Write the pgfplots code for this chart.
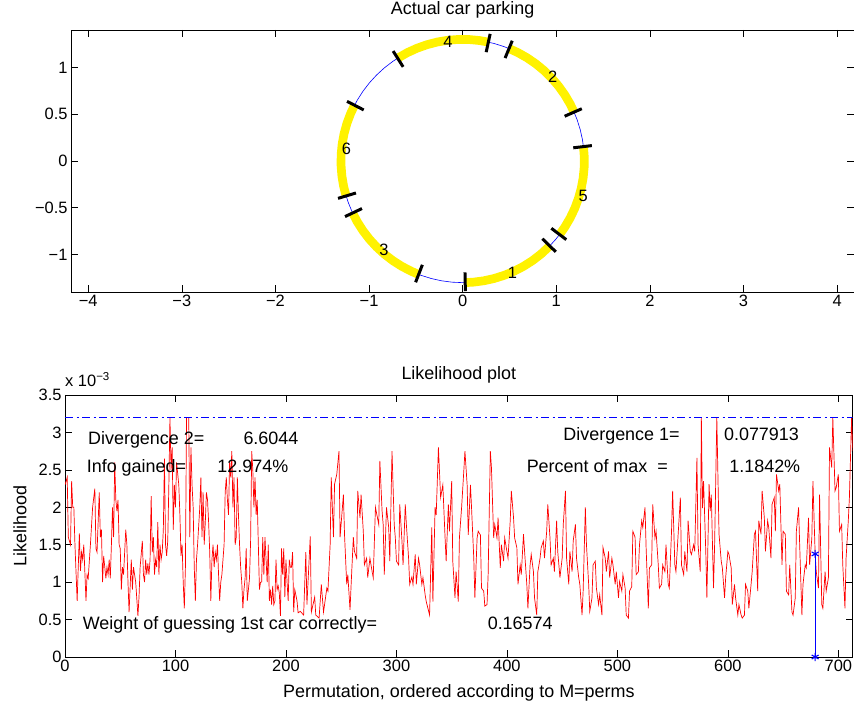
\documentclass[border=0pt]{standalone}
\usepackage{fontspec}
\setmainfont{Liberation Sans}
\usepackage{pgfplots}
\pgfplotsset{compat=1.18}
\definecolor{mblue}{RGB}{0,0,255}

\pgfplotsset{
  matlab/.style={
    scale only axis,
    axis line style={line width=0.8bp},
    tick style={line width=0.6bp, black},
    major tick length=7bp,
    tick align=inside,
    tick pos=both,
    font=\fontsize{18}{21}\selectfont,
    tick label style={font=\fontsize{16.5}{19}\selectfont},
    title style={at={(axis description cs:0.5,1)}, anchor=base, yshift=9.5bp},
  },
}

\begin{document}
\begin{tikzpicture}
% --- top: parking circle (angles in degrees, radius) ---
\begin{axis}[matlab,
  at={(71bp,416bp)}, anchor=south west,
  width=783.3bp, height=262bp,
  xmin=-4.184, xmax=4.184, ymin=-1.4, ymax=1.4,
  xtick={-4,...,4}, xticklabels={−4,−3,−2,−1,0,1,2,3,4},
  ytick={-1,-0.5,0,0.5,1}, yticklabels={−1,−0.5,0,0.5,1},
  title={Actual car parking},
  data cs=polar,
]
\addplot[color=mblue, line width=0.6bp] coordinates {
(0,1.3) (5,1.3) (10,1.3) (15,1.3) (20,1.3) (25,1.3) (30,1.3) (35,1.3) (40,1.3) (45,1.3)
(50,1.3) (55,1.3) (60,1.3) (65,1.3) (70,1.3) (75,1.3) (80,1.3) (85,1.3) (90,1.3) (95,1.3)
(100,1.3) (105,1.3) (110,1.3) (115,1.3) (120,1.3) (125,1.3) (130,1.3) (135,1.3) (140,1.3) (145,1.3)
(150,1.3) (155,1.3) (160,1.3) (165,1.3) (170,1.3) (175,1.3) (180,1.3) (185,1.3) (190,1.3) (195,1.3)
(200,1.3) (205,1.3) (210,1.3) (215,1.3) (220,1.3) (225,1.3) (230,1.3) (235,1.3) (240,1.3) (245,1.3)
(250,1.3) (255,1.3) (260,1.3) (265,1.3) (270,1.3) (275,1.3) (280,1.3) (285,1.3) (290,1.3) (295,1.3)
(300,1.3) (305,1.3) (310,1.3) (315,1.3) (320,1.3) (325,1.3) (330,1.3) (335,1.3) (340,1.3) (345,1.3)
(350,1.3) (355,1.3) (360,1.3)};
% cars
\addplot[yellow, line width=8.7bp] coordinates {(271.2,1.3) (275,1.3) (280,1.3) (285,1.3) (290,1.3) (295,1.3) (300,1.3) (305,1.3) (310,1.3) (315.7,1.3)};
\addplot[yellow, line width=8.7bp] coordinates {(322.8,1.3) (327,1.3) (332,1.3) (337,1.3) (342,1.3) (347,1.3) (352,1.3) (357,1.3) (362,1.3) (366.8,1.3)};
\addplot[yellow, line width=8.7bp] coordinates {(23.7,1.3) (28,1.3) (33,1.3) (38,1.3) (43,1.3) (48,1.3) (53,1.3) (58,1.3) (63,1.3) (67.6,1.3)};
\addplot[yellow, line width=8.7bp] coordinates {(77.8,1.3) (82,1.3) (87,1.3) (92,1.3) (97,1.3) (102,1.3) (107,1.3) (112,1.3) (117,1.3) (122.3,1.3)};
\addplot[yellow, line width=8.7bp] coordinates {(152.7,1.3) (157,1.3) (162,1.3) (167,1.3) (172,1.3) (177,1.3) (182,1.3) (187,1.3) (192,1.3) (196.7,1.3)};
\addplot[yellow, line width=8.7bp] coordinates {(205.3,1.3) (210,1.3) (215,1.3) (220,1.3) (225,1.3) (230,1.3) (235,1.3) (240,1.3) (245,1.3) (248.8,1.3)};
% car ends
\addplot[black, line width=3bp] coordinates {(271.2,1.19) (271.2,1.39)};
\addplot[black, line width=3bp] coordinates {(315.7,1.19) (315.7,1.39)};
\addplot[black, line width=3bp] coordinates {(322.8,1.19) (322.8,1.39)};
\addplot[black, line width=3bp] coordinates {(6.8,1.19) (6.8,1.39)};
\addplot[black, line width=3bp] coordinates {(23.7,1.19) (23.7,1.39)};
\addplot[black, line width=3bp] coordinates {(67.6,1.19) (67.6,1.39)};
\addplot[black, line width=3bp] coordinates {(77.8,1.19) (77.8,1.39)};
\addplot[black, line width=3bp] coordinates {(122.3,1.19) (122.3,1.39)};
\addplot[black, line width=3bp] coordinates {(152.7,1.19) (152.7,1.39)};
\addplot[black, line width=3bp] coordinates {(196.7,1.19) (196.7,1.39)};
\addplot[black, line width=3bp] coordinates {(205.3,1.19) (205.3,1.39)};
\addplot[black, line width=3bp] coordinates {(248.8,1.19) (248.8,1.39)};
% car numbers
\addplot[draw=none, nodes near coords, point meta=explicit symbolic,
  nodes near coords style={anchor=center, inner sep=0pt, font=\fontsize{16.5}{19}\selectfont}] coordinates {
(294,1.31)[1] (43.3,1.32)[2] (228.5,1.27)[3] (97,1.28)[4] (344,1.34)[5] (173.8,1.25)[6]};
\end{axis}

% --- bottom: likelihood of each permutation (values in 1e-3) ---
\begin{axis}[matlab,
  at={(65bp,51bp)}, anchor=south west,
  width=787.7bp, height=262bp,
  xmin=0, xmax=713, ymin=0, ymax=3.5,
  xtick={0,100,...,700}, xticklabels={0,100,200,300,400,500,600,700},
  ytick={0,0.5,...,3.5}, yticklabels={0,0.5,1,1.5,2,2.5,3,3.5},
  title={Likelihood plot},
  xlabel={Permutation, ordered according to M=perms},
  ylabel={Likelihood},
  xlabel style={at={(axis description cs:0.5,-0.1527)}, anchor=base},
  ylabel style={at={(axis description cs:-0.0571,0.5)}, anchor=center},
]
\addplot[red, line width=0.7bp] coordinates {
(0,2.3) (2,2.4) (3,1.6) (5,1.5) (6,2.35) (7,2.0) (8,2.0) (9,1.5) (11,0.75) (13,1.65) (14,1.15) (15,1.4) (16,1.3) (17,1.5) (19,0.75) (20,1.1) (21,1.05) (23,1.5) (25,2.0) (27,2.25) (28,1.45) (29,1.4) (30,1.8) (31,2.2) (32,1.6) (33,1.7) (34,1.0) (35,1.35) (36,1.2) (37,1.05) (38,1.2) (39,1.1) (40,1.3) (41,1.05) (42,1.5) (43,2.0) (44,1.6) (45,2.6) (46,2.1) (47,1.95) (48,2.1) (49,1.5) (50,1.45) (51,0.9) (52,1.2) (53,1.1) (55,1.7) (56,1.5) (57,1.0) (58,0.6) (59,0.95) (60,1.3) (61,0.9) (62,1.2) (64,1.0) (66,0.55) (67,0.8) (68,1.2) (70,1.55) (71,1.1) (72,1.0) (73,1.3) (74,1.1) (75,1.25) (76,1.1) (77,1.3) (78,2.15) (79,1.4) (80,1.6) (81,1.1) (82,1.3) (83,1.2) (84,1.8) (85,1.1) (86,1.5) (87,1.3) (88,1.4) (89,1.7) (90,2.65) (91,1.5) (92,1.35) (93,1.55) (94,2.3) (95,3.2) (96,2.5) (97,2.8) (98,1.7) (99,2.3) (100,2.0) (101,2.6) (103,2.3) (104,1.9) (105,1.35) (106,1.5) (107,1.0) (108,0.65) (109,1.2) (110,3.2) (112,3.2) (113,1.6) (114,2.8) (115,2.3)
(116,2.0) (117,1.2) (118,0.75) (119,1.3) (120,1.5) (122,2.0) (123,2.4) (124,1.6) (125,2.2) (126,1.5) (127,1.8) (128,2.2) (129,2.1) (130,1.8) (131,1.4) (132,0.75) (133,1.3) (134,1.5) (135,1.2) (136,1.4) (137,1.3) (138,1.5) (139,1.1) (140,0.75) (141,1.0) (142,1.1) (144,1.5) (145,2.2) (146,2.4) (147,2.1) (148,1.9) (149,2.6) (150,2.4) (151,2.75) (152,2.0) (153,2.4) (154,1.5) (155,1.6) (156,2.4) (157,1.9) (158,1.5) (159,1.2) (160,1.0) (161,0.65) (162,0.9) (163,1.05) (164,1.45) (165,0.75) (166,0.9) (167,1.05) (168,1.55) (169,2.75) (170,2.5) (171,2.0) (172,2.4) (173,1.9) (174,2.1) (175,1.5) (176,0.9) (177,1.0) (178,1.0) (179,1.6) (180,1.1) (181,1.6) (182,1.3) (183,1.0) (184,1.5) (185,0.75) (186,0.9) (187,0.7) (188,0.95) (189,0.7) (190,0.75) (191,1.3) (192,0.9) (193,0.95) (194,0.85) (195,0.55) (196,1.45) (197,1.1) (198,1.45) (199,0.8) (200,1.3) (201,1.0) (202,0.75) (203,1.3) (204,1.2) (205,1.2) (206,1.4) (207,0.6) (208,0.9)
(210,0.75) (211,0.59) (213,0.61) (216,0.56) (218,1.4) (219,0.7) (222,1.61) (223,0.6) (226,0.8) (227,0.56) (230,0.52) (232,0.97) (234,0.6) (237,0.92) (238,0.88) (240,1.5) (241,2.4) (243,1.6) (244,2.31) (246,2.44) (248,2.75) (249,1.6) (252,2.17) (253,1.64) (255,0.97) (256,1.1) (258,0.63) (259,0.97) (261,1.6) (262,1.41) (264,1.32) (265,2.22) (267,1.86) (268,2.17) (270,1.68) (271,1.23) (273,1.32) (274,1.06) (276,1.32) (278,1.14) (279,1.06) (281,2.0) (284,1.77) (285,2.62) (287,1.95) (288,1.77) (289,1.1) (291,2.0) (293,1.73) (294,1.28) (296,2.75) (298,1.77) (299,1.59) (300,1.28) (302,1.23) (303,2.04) (305,1.55) (306,1.23) (308,2.04) (309,1.77) (311,1.32) (312,0.97) (314,1.07) (315,0.97) (317,1.37) (318,0.97) (320,1.32) (321,1.23) (323,0.97) (324,1.06) (326,0.83) (327,0.74) (330,0.56) (332,1.73) (333,0.74) (335,2.0) (336,1.9) (338,2.8)
(340,2.13) (342,2.3) (344,1.6) (345,1.28) (347,2.04) (348,1.68) (350,2.35) (351,1.28) (353,0.79) (354,1.14) (356,0.74) (357,1.59) (359,2.0) (361,2.49) (362,2.75) (364,2.3) (365,1.63) (367,2.3) (368,1.99) (370,1.32) (371,0.79) (373,1.59) (374,1.68) (376,1.63) (377,0.92) (379,0.88) (380,0.68) (382,0.7) (383,1.1) (385,2.75) (386,2.53) (388,1.59) (389,1.77) (391,1.59) (392,1.86) (394,1.19) (395,1.5) (397,1.28) (398,1.59) (400,1.41) (401,1.32) (403,1.82) (404,2.22) (406,1.86) (407,1.59) (409,1.46) (410,0.97) (412,1.23) (413,1.1) (415,1.64) (416,1.41) (418,0.97) (419,0.65) (421,1.23) (422,1.37) (424,1.14) (425,0.79) (427,0.56) (428,1.14) (430,1.32) (431,1.46) (433,1.55) (434,1.32) (436,1.68) (437,2.04) (439,1.59) (440,1.23) (442,1.32) (443,1.14) (445,1.82) (446,1.41) (448,1.06) (450,1.32) (451,1.77) (453,2.22) (454,1.32) (456,0.97) (457,1.41) (459,1.14) (460,1.55) (462,1.77) (463,1.32) (465,1.06) (466,0.97) (468,0.56) (469,0.88) (471,2.0) (472,1.5) (474,0.97) (475,0.61) (477,0.79) (478,1.23) (480,1.28) (481,0.92) (483,0.70) (484,0.83) (486,0.56) (487,1.46) (489,1.32) (490,1.14) (492,1.41) (493,1.06) (495,1.32) (496,1.23) (498,0.97) (499,1.14) (501,0.79) (502,1.01) (504,0.88) (505,1.1) (507,0.92) (508,0.56) (510,0.52)
(511,0.88) (513,0.94) (514,1.68) (516,1.6) (517,1.1) (519,1.14) (520,1.5) (522,1.82) (523,1.73) (525,2.0) (526,1.46) (528,0.65) (529,1.19) (531,1.23) (532,2.04) (534,1.59) (535,1.68) (537,1.23) (538,0.92) (540,0.97) (541,1.23) (543,1.14) (544,1.5) (546,0.97) (547,0.92) (549,1.68) (550,2.22) (552,1.23) (553,1.14) (555,1.64) (557,2.13) (558,1.23) (560,1.1) (561,1.41) (563,1.14) (564,1.82) (566,1.41) (567,1.37) (569,1.5) (570,1.41) (572,2.66) (573,1.5) (575,1.14) (576,3.2) (577,1.99) (578,2.35) (580,1.41) (581,0.79) (583,2.31) (584,1.95) (585,2.17) (587,0.92) (588,1.5) (590,3.2) (592,1.64) (594,1.28) (595,1.19) (597,0.79) (598,1.06) (600,1.41) (601,1.37) (603,1.19) (604,0.7) (606,0.97) (607,0.79) (609,0.56) (610,0.7) (612,0.56) (613,0.52) (615,0.56) (616,0.97) (618,0.88) (619,0.65) (621,0.97) (622,1.14) (624,1.64) (625,1.68) (627,0.88) (628,1.82) (630,1.64) (631,2.22) (633,1.86) (634,1.41) (636,1.82) (637,1.73) (639,1.32) (640,2.04) (642,2.13) (643,1.68) (644,2.44) (646,2.22) (647,2.31) (649,1.23) (650,1.68) (652,1.64) (653,0.88) (655,0.83) (656,1.23) (658,0.6) (659,0.56) (661,0.79) (662,1.68) (664,2.0) (665,1.5) (667,0.56) (668,0.97) (670,1.23) (671,1.19) (673,1.86) (674,1.23) (676,1.59) (677,2.35) (678,1.86) (679,1.38) (680,1.14) (682,0.92) (683,2.17) (685,0.7) (686,0.65) (688,1.14) (689,0.88) (691,1.06) (692,2.8) (694,2.53) (695,3.2) (697,2.22) (698,2.26) (700,2.44) (701,1.68) (703,1.77) (704,1.23) (706,0.65) (707,1.32) (709,1.82) (710,2.13) (712,3.2) (713,2.75)};
\addplot[draw=mblue, line width=1.2bp, dash pattern=on 8bp off 3.5bp on 2bp off 3.5bp] coordinates {(0,3.2) (713,3.2)};
\addplot[draw=mblue, line width=1.1bp, mark=asterisk, mark size=4bp, mark options={draw=mblue, solid}] coordinates {(679,0) (679,1.377)};

\node[anchor=base west, inner sep=0pt] at (axis cs:20.8,2.843) {Divergence 2=};
\node[anchor=base west, inner sep=0pt] at (axis cs:161.4,2.843) {6.6044};
\node[anchor=base west, inner sep=0pt] at (axis cs:19.6,2.461) {Info gained=};
\node[anchor=base west, inner sep=0pt] at (axis cs:137.8,2.461) {12.974\%};
\node[anchor=base west, inner sep=0pt] at (axis cs:451,2.89) {Divergence 1=};
\node[anchor=base west, inner sep=0pt] at (axis cs:596.4,2.89) {0.077913};
\node[anchor=base west, inner sep=0pt] at (axis cs:417.8,2.461) {Percent of max\ \ =};
\node[anchor=base west, inner sep=0pt] at (axis cs:601.2,2.461) {1.1842\%};
\node[anchor=base west, inner sep=0pt] at (axis cs:16,0.369) {Weight of guessing 1st car correctly=};
\node[anchor=base west, inner sep=0pt] at (axis cs:382.5,0.369) {0.16574};
\end{axis}
% axis multiplier above the likelihood plot
\node[anchor=base west, inner sep=0pt, font=\fontsize{16.5}{19}\selectfont] at (65bp,321bp) {x 10\textsuperscript{−3}};
\pgfresetboundingbox
\path[use as bounding box] (0,0) rectangle (854bp,708bp);
\end{tikzpicture}
\end{document}
